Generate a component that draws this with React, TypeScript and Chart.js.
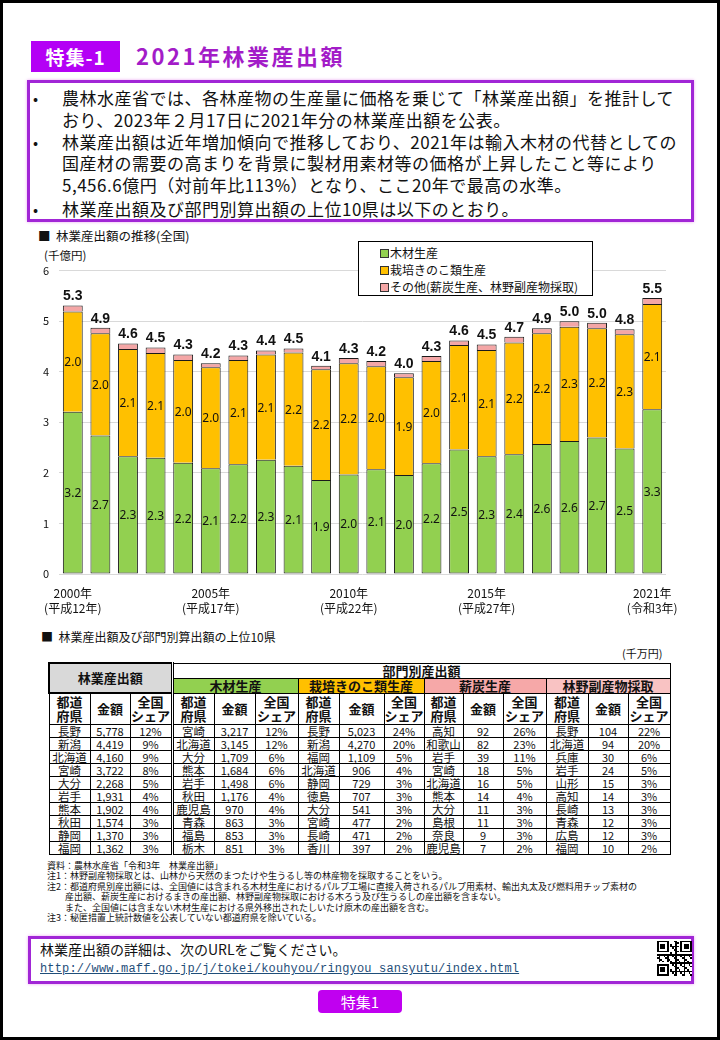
import React, { useEffect, useRef } from 'react';
import { Chart, registerables } from 'chart.js';
Chart.register(...registerables);

// ---------- chart data ----------
const years = ['2000','2001','2002','2003','2004','2005','2006','2007','2008','2009','2010','2011','2012','2013','2014','2015','2016','2017','2018','2019','2020','2021'];
const woodValues = [3.21, 2.74, 2.33, 2.30, 2.20, 2.09, 2.17, 2.26, 2.14, 1.86, 1.97, 2.07, 1.96, 2.19, 2.46, 2.33, 2.37, 2.57, 2.63, 2.70, 2.48, 3.26];
const mushroomValues = [1.98, 2.02, 2.12, 2.07, 2.03, 2.00, 2.06, 2.08, 2.24, 2.19, 2.20, 2.04, 1.93, 2.02, 2.07, 2.10, 2.21, 2.19, 2.26, 2.16, 2.26, 2.08];
const otherValues = [0.12, 0.11, 0.11, 0.11, 0.11, 0.08, 0.09, 0.08, 0.08, 0.07, 0.10, 0.10, 0.08, 0.10, 0.09, 0.11, 0.11, 0.10, 0.11, 0.11, 0.10, 0.12];
const tickYears = ['2000', '2005', '2010', '2015', '2021'];
const tickEras = ['(平成12年)', '(平成17年)', '(平成22年)', '(平成27年)', '(令和3年)'];
const seriesNames = ['木材生産', '栽培きのこ類生産', 'その他(薪炭生産、林野副産物採取)'];
const seriesColors = ['#92d050', '#ffc000', '#f4a6a6'];

// ---------- table data ----------
const totalPrefs = ['長野', '新潟', '北海道', '宮崎', '大分', '岩手', '熊本', '秋田', '静岡', '福岡'];
const totalAmounts = ['5,778', '4,419', '4,160', '3,722', '2,268', '1,931', '1,902', '1,574', '1,370', '1,362'];
const totalShares = ['12%', '9%', '9%', '8%', '5%', '4%', '4%', '3%', '3%', '3%'];
const woodPrefs = ['宮崎', '北海道', '大分', '熊本', '岩手', '秋田', '鹿児島', '青森', '福島', '栃木'];
const woodAmounts = ['3,217', '3,145', '1,709', '1,684', '1,498', '1,176', '970', '863', '853', '851'];
const woodShares = ['12%', '12%', '6%', '6%', '6%', '4%', '4%', '3%', '3%', '3%'];
const mushPrefs = ['長野', '新潟', '福岡', '北海道', '静岡', '徳島', '大分', '宮崎', '長崎', '香川'];
const mushAmounts = ['5,023', '4,270', '1,109', '906', '729', '707', '541', '477', '471', '397'];
const mushShares = ['24%', '20%', '5%', '4%', '3%', '3%', '3%', '2%', '2%', '2%'];
const charPrefs = ['高知', '和歌山', '岩手', '宮崎', '北海道', '熊本', '大分', '島根', '奈良', '鹿児島'];
const charAmounts = ['92', '82', '39', '18', '16', '14', '11', '11', '9', '7'];
const charShares = ['26%', '23%', '11%', '5%', '5%', '4%', '3%', '3%', '3%', '2%'];
const byPrefs = ['長野', '北海道', '兵庫', '岩手', '山形', '高知', '長崎', '青森', '広島', '福岡'];
const byAmounts = ['104', '94', '30', '24', '15', '14', '13', '12', '12', '10'];
const byShares = ['22%', '20%', '6%', '5%', '3%', '3%', '3%', '3%', '3%', '2%'];
const sectorNames = ['木材生産', '栽培きのこ類生産', '薪炭生産', '林野副産物採取'];
const sectorColors = ['#92d050', '#ffc000', '#f6a8a8', '#f9c3c3'];

const bulletLines = [
  ['農林水産省では、各林産物の生産量に価格を乗じて「林業産出額」を推計して', 'おり、2023年２月17日に2021年分の林業産出額を公表。'],
  ['林業産出額は近年増加傾向で推移しており、2021年は輸入木材の代替としての', '国産材の需要の高まりを背景に製材用素材等の価格が上昇したこと等により', '5,456.6億円（対前年比113%）となり、ここ20年で最高の水準。'],
  ['林業産出額及び部門別算出額の上位10県は以下のとおり。'],
];
const noteLines = [
  '資料：農林水産省「令和3年　林業産出額」',
  '注1：林野副産物採取とは、山林から天然のまつたけや生うるし等の林産物を採取することをいう。',
  '注2：都道府県別産出額には、全国値には含まれる木材生産におけるパルプ工場に直接入荷されるパルプ用素材、輸出丸太及び燃料用チップ素材の',
  '　　産出額、薪炭生産におけるまきの産出額、林野副産物採取における木ろう及び生うるしの産出額を含まない。',
  '　　また、全国値には含まない木材生産における県外移出されたしいたけ原木の産出額を含む。',
  '注3：秘匿措置上統計数値を公表していない都道府県を除いている。',
];

const JP = '"Noto Sans CJK JP", "Noto Sans", sans-serif';
const PURPLE_BORDER = '#a126d6';

const labelPlugin = {
  id: 'barLabels',
  afterDatasetsDraw(chart: any) {
    const ctx = chart.ctx;
    ctx.save();
    ctx.textAlign = 'center';
    ctx.textBaseline = 'middle';
    ctx.fillStyle = '#111';
    ctx.font = '12px "Liberation Sans Narrow", "Noto Sans", sans-serif';
    [0, 1].forEach((di) => {
      const meta = chart.getDatasetMeta(di);
      meta.data.forEach((bar: any, i: number) => {
        const v = chart.data.datasets[di].data[i] as number;
        const p = bar.getProps(['x', 'y', 'base'], true);
        ctx.fillText(v.toFixed(1), p.x, (p.y + p.base) / 2 + 1);
      });
    });
    const topMeta = chart.getDatasetMeta(2);
    ctx.font = 'bold 14px "Liberation Sans", Arial, sans-serif';
    ctx.textBaseline = 'bottom';
    topMeta.data.forEach((bar: any, i: number) => {
      const total = woodValues[i] + mushroomValues[i] + otherValues[i];
      const p = bar.getProps(['x', 'y'], true);
      ctx.fillText(total.toFixed(1), p.x, p.y - 2);
    });
    ctx.restore();
  },
};

function BarChart() {
  const ref = useRef<HTMLCanvasElement>(null);
  useEffect(() => {
    if (!ref.current) return;
    const chart = new Chart(ref.current, {
      type: 'bar',
      data: {
        labels: years,
        datasets: [
          { label: seriesNames[0], data: woodValues, backgroundColor: seriesColors[0], borderSkipped: false as any },
          { label: seriesNames[1], data: mushroomValues, backgroundColor: seriesColors[1], borderSkipped: 'start' as any },
          { label: seriesNames[2], data: otherValues, backgroundColor: seriesColors[2], borderSkipped: 'start' as any },
        ].map((d) => ({
          ...d,
          borderColor: '#1a1a1a',
          borderWidth: 1,
          barPercentage: 0.72,
          categoryPercentage: 1,
        })),
      },
      options: {
        responsive: false,
        animation: false,
        devicePixelRatio: 1,
        layout: { padding: { top: 0, right: 17, left: 0, bottom: 0 } },
        plugins: { legend: { display: false }, tooltip: { enabled: false } },
        scales: {
          x: {
            stacked: true,
            grid: { display: false, drawTicks: false },
            border: { display: false },
            afterFit: (s: any) => { s.height = 48; },
            ticks: {
              autoSkip: false,
              maxRotation: 0,
              minRotation: 0,
              padding: 12,
              color: '#111',
              font: { family: JP, size: 12, lineHeight: 1.25 },
              callback: (_v: any, i: number) => {
                const k = tickYears.indexOf(years[i]);
                return k >= 0 ? [tickYears[k] + '年', tickEras[k]] : '';
              },
            },
          },
          y: {
            stacked: true,
            min: 0,
            max: 6,
            grid: { color: '#d9d9d9', drawTicks: false },
            border: { display: false },
            afterFit: (s: any) => { s.width = 39; },
            ticks: { stepSize: 1, padding: 10, color: '#111', font: { family: JP, size: 11 } },
          },
        },
      },
      plugins: [labelPlugin],
    });
    return () => chart.destroy();
  }, []);
  return <canvas ref={ref} width={670} height={368} style={{ position: 'absolute', left: 20, top: 254 }} />;
}

function QR() {
  const n = 21;
  const cells: JSX.Element[] = [];
  const finder = (r: number, c: number) => {
    const f = (r0: number, c0: number) => {
      const rr = r - r0, cc = c - c0;
      if (rr < 0 || cc < 0 || rr > 6 || cc > 6) return null;
      if (rr === 0 || rr === 6 || cc === 0 || cc === 6) return true;
      if (rr >= 2 && rr <= 4 && cc >= 2 && cc <= 4) return true;
      return false;
    };
    const a = f(0, 0); if (a !== null) return a;
    const b = f(0, 14); if (b !== null) return b;
    const d = f(14, 0); if (d !== null) return d;
    if ((r === 7 || c === 7) && (r < 8 && c < 8)) return false;
    if ((r === 7 && c > 12) || (c === 13 && r < 8)) return false;
    if ((c === 7 && r > 12) || (r === 13 && c < 8)) return false;
    return ((r * 7 + c * 11 + r * c * 3) % 5) < 2;
  };
  for (let r = 0; r < n; r++) for (let c = 0; c < n; c++) if (finder(r, c)) cells.push(<rect key={r + '-' + c} x={c} y={r} width={1} height={1} fill="#000" />);
  return (
    <svg width={35} height={36} viewBox="0 0 21 21" shapeRendering="crispEdges" style={{ position: 'absolute', left: 657, top: 940 }}>
      <rect x={0} y={0} width={21} height={21} fill="#fff" />
      {cells}
    </svg>
  );
}

function DataTable() {
  const groups = [
    [totalPrefs, totalAmounts, totalShares],
    [woodPrefs, woodAmounts, woodShares],
    [mushPrefs, mushAmounts, mushShares],
    [charPrefs, charAmounts, charShares],
    [byPrefs, byAmounts, byShares],
  ];
  const colW = [41, 40, 42, 42, 41, 43, 41, 45, 40, 39, 40, 43, 42, 40, 42];
  const bd = '1px solid #000';
  const base: React.CSSProperties = { border: bd, padding: 0, textAlign: 'center', verticalAlign: 'middle', overflow: 'hidden', whiteSpace: 'nowrap' };
  const hdr: React.CSSProperties = { ...base, fontWeight: 700, fontSize: 13, lineHeight: '14px' };
  const dbl = (ci: number): React.CSSProperties => (ci === 3 ? { borderLeft: '3px double #000' } : {});
  return (
    <table style={{ position: 'absolute', left: 48, top: 662, width: 621, borderCollapse: 'collapse', tableLayout: 'fixed', fontFamily: JP, color: '#111' }}>
      <colgroup>{colW.map((w, i) => <col key={i} style={{ width: w }} />)}</colgroup>
      <tbody>
        <tr style={{ height: 15 }}>
          <td colSpan={3} rowSpan={2} style={{ ...hdr, background: '#d9d9d9', borderWidth: 2 }}>林業産出額</td>
          <td colSpan={12} style={{ ...hdr, borderLeft: '3px double #000', background: '#fff' }}>部門別産出額</td>
        </tr>
        <tr style={{ height: 15 }}>
          {sectorNames.map((s, i) => (
            <td key={s} colSpan={3} style={{ ...hdr, ...(i === 0 ? { borderLeft: '3px double #000' } : {}), background: sectorColors[i] }}>{s}</td>
          ))}
        </tr>
        <tr style={{ height: 31 }}>
          {groups.map((_, gi) => [
            <td key={gi + 'a'} style={{ ...hdr, ...dbl(gi * 3) }}>都道<br />府県</td>,
            <td key={gi + 'b'} style={hdr}>金額</td>,
            <td key={gi + 'c'} style={hdr}>全国<br />シェア</td>,
          ])}
        </tr>
        {totalPrefs.map((_, ri) => (
          <tr key={ri} style={{ height: 13 }}>
            {groups.map((g, gi) => g.map((col, k) => (
              <td key={gi + '-' + k} style={{ ...base, fontSize: k === 0 ? 11.5 : 11, lineHeight: '12px', ...dbl(gi * 3 + k) }}>{col[ri]}</td>
            )))}
          </tr>
        ))}
      </tbody>
    </table>
  );
}

export default function App() {
  const abs = (l: number, t: number, extra: React.CSSProperties = {}): React.CSSProperties => ({ position: 'absolute', left: l, top: t, whiteSpace: 'nowrap', ...extra });
  const bulletTops = [[98, 120], [142, 163, 185], [209]];
  return (
    <div style={{ position: 'absolute', left: 0, top: 0, width: 720, height: 1040, background: '#fff', fontFamily: JP, color: '#111', overflow: 'hidden' }}>
      {/* header */}
      <div style={abs(31, 41, { width: 89, height: 31, background: '#b400f5', color: '#fff', fontWeight: 700, fontSize: 19, lineHeight: '31px', textAlign: 'center', letterSpacing: 1 })}>特集-1</div>
      <div style={abs(136, 40, { height: 31, lineHeight: '31px', fontSize: 22, fontWeight: 700, color: '#a31cc8', letterSpacing: 2.5 })}>2021年林業産出額</div>

      {/* bullet box */}
      <div style={abs(27, 80, { width: 667, height: 142, boxSizing: 'border-box', border: '3px solid ' + PURPLE_BORDER, boxShadow: '0 0 3px #e9a6f2' })} />
      {bulletLines.map((para, pi) => para.map((line, li) => {
        const cy = bulletTops[pi][li];
        return (
          <React.Fragment key={pi + '-' + li}>
            {li === 0 && <div style={abs(33, cy - 11, { fontSize: 15, lineHeight: '22px' })}>•</div>}
            <div style={abs(62, cy - 11, { fontSize: 17, lineHeight: '22px', letterSpacing: 0.5 })}>{line}</div>
          </React.Fragment>
        );
      }))}

      {/* chart section */}
      <div style={abs(38, 228, { fontSize: 12.5, lineHeight: '16px' })}>■&nbsp;&nbsp;林業産出額の推移(全国)</div>
      <div style={abs(44, 248, { fontSize: 11.5, lineHeight: '15px' })}>(千億円)</div>
      <BarChart />
      <div style={abs(358, 241, { width: 235, height: 55, boxSizing: 'border-box', border: '1px solid #000', background: '#fff', zIndex: 2 })}>
        {seriesNames.map((n, i) => (
          <div key={n} style={{ position: 'absolute', left: 21, top: 2 + i * 17, height: 17, lineHeight: '17px', fontSize: 12, whiteSpace: 'nowrap' }}>
            <span style={{ display: 'inline-block', width: 7, height: 7, background: seriesColors[i], border: '1px solid #333', marginRight: 1, verticalAlign: 'middle', position: 'relative', top: -1 }} />
            {n}
          </div>
        ))}
      </div>

      {/* table section */}
      <div style={abs(41, 629, { fontSize: 12, lineHeight: '15px' })}>■&nbsp;&nbsp;林業産出額及び部門別算出額の上位10県</div>
      <div style={abs(622, 646, { fontSize: 11, lineHeight: '14px' })}>(千万円)</div>
      <DataTable />
      {noteLines.map((l, i) => (
        <div key={i} style={abs(47, 861 + i * 10.4, { fontSize: 9, lineHeight: '10.4px', whiteSpace: 'pre' })}>{l}</div>
      ))}

      {/* footer */}
      <div style={abs(28, 936, { width: 666, height: 48, boxSizing: 'border-box', border: '3px solid ' + PURPLE_BORDER, boxShadow: '0 0 3px #e9a6f2' })} />
      <div style={abs(40, 940, { fontSize: 14, lineHeight: '18px' })}>林業産出額の詳細は、次のURLをご覧ください。</div>
      <div style={abs(40, 961, { fontSize: 12, lineHeight: '16px', fontFamily: '"Liberation Mono", "DejaVu Sans Mono", monospace', letterSpacing: 0.17, color: '#1f4e79', textDecoration: 'underline' })}>http://www.maff.go.jp/j/tokei/kouhyou/ringyou_sansyutu/index.html</div>
      <QR />
      <div style={abs(318, 990, { width: 84, height: 23, borderRadius: 4, background: '#c000f0', color: '#fff', fontSize: 15, lineHeight: '23px', textAlign: 'center' })}>特集1</div>

      {/* page border */}
      <div style={{ position: 'absolute', left: 0, top: 0, width: 720, height: 1040, boxSizing: 'border-box', border: '3px solid #000', pointerEvents: 'none' }} />
    </div>
  );
}
